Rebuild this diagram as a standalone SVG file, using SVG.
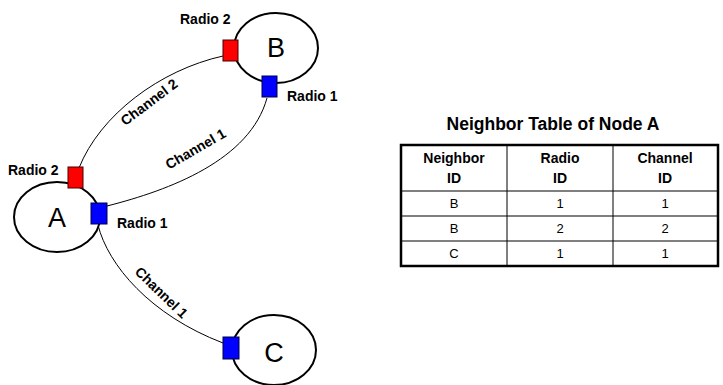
<svg xmlns="http://www.w3.org/2000/svg" width="723" height="385" viewBox="0 0 723 385">
<style>
.node{fill:#fff;stroke:#000;stroke-width:2}
.letter{font-family:"Liberation Sans",Arial,sans-serif;font-size:27px;fill:#000;text-anchor:middle}
.lbl{font-family:"Liberation Sans",Arial,sans-serif;font-size:14px;font-weight:bold;fill:#000}
.ch{font-family:"Liberation Sans",Arial,sans-serif;font-size:14px;font-weight:bold;fill:#000;text-anchor:middle}
.red{fill:#f00;stroke:#400;stroke-width:1}
.blue{fill:#00f;stroke:#004;stroke-width:1}
.link{fill:none;stroke:#000;stroke-width:1}
.title{font-family:"Liberation Sans",Arial,sans-serif;font-size:17.5px;font-weight:bold;fill:#000;text-anchor:middle}
.th{font-family:"Liberation Sans",Arial,sans-serif;font-size:14px;font-weight:bold;fill:#000;text-anchor:middle}
.td{font-family:"Liberation Sans",Arial,sans-serif;font-size:13px;fill:#000;text-anchor:middle}
.grid{stroke:#000;stroke-width:1}
</style>
<g id="connectors">
<path class="link" d="M79,168 C100,115 160,70 223,56"/>
<path class="link" d="M107,206 C170,190 250,160 267,98"/>
<path class="link" d="M98,225 C108,265 150,315 223,343"/>
<text class="ch" transform="translate(152,106) rotate(-37)">Channel 2</text>
<text class="ch" transform="translate(198,153) rotate(-30)">Channel 1</text>
<text class="ch" transform="translate(158,296) rotate(44)">Channel 1</text>
</g>
<g id="node-B">
<ellipse class="node" cx="276" cy="48" rx="42" ry="35"/>
<text class="letter" x="276" y="57">B</text>
<rect class="red" x="223" y="40" width="15" height="21"/>
<rect class="blue" x="262" y="76" width="15" height="21"/>
<text class="lbl" x="180" y="24">Radio 2</text>
<text class="lbl" x="287" y="101">Radio 1</text>
</g>
<g id="node-A">
<ellipse class="node" cx="57" cy="217" rx="43" ry="35"/>
<text class="letter" x="57" y="227">A</text>
<rect class="red" x="68" y="167" width="15" height="21"/>
<rect class="blue" x="91" y="203" width="16" height="21"/>
<text class="lbl" x="8" y="175">Radio 2</text>
<text class="lbl" x="117" y="228">Radio 1</text>
</g>
<g id="node-C">
<ellipse class="node" cx="274" cy="350" rx="42" ry="35"/>
<text class="letter" x="274" y="362">C</text>
<rect class="blue" x="223" y="337" width="16" height="22"/>
</g>
<g id="table">
<text class="title" x="553" y="130">Neighbor Table of Node A</text>
<rect x="401" y="145" width="317" height="121" fill="#fff" stroke="#000" stroke-width="2.5"/>
<line class="grid" x1="507" y1="145" x2="507" y2="266"/>
<line class="grid" x1="613" y1="145" x2="613" y2="266"/>
<line class="grid" x1="401" y1="191" x2="718" y2="191"/>
<line class="grid" x1="401" y1="216" x2="718" y2="216"/>
<line class="grid" x1="401" y1="241" x2="718" y2="241"/>
<text class="th" x="454" y="163">Neighbor</text>
<text class="th" x="454" y="183">ID</text>
<text class="th" x="560" y="163">Radio</text>
<text class="th" x="560" y="183">ID</text>
<text class="th" x="665" y="163">Channel</text>
<text class="th" x="665" y="183">ID</text>
<text class="td" x="454" y="208">B</text>
<text class="td" x="560" y="208">1</text>
<text class="td" x="665" y="208">1</text>
<text class="td" x="454" y="233">B</text>
<text class="td" x="560" y="233">2</text>
<text class="td" x="665" y="233">2</text>
<text class="td" x="454" y="258">C</text>
<text class="td" x="560" y="258">1</text>
<text class="td" x="665" y="258">1</text>
</g>
</svg>
